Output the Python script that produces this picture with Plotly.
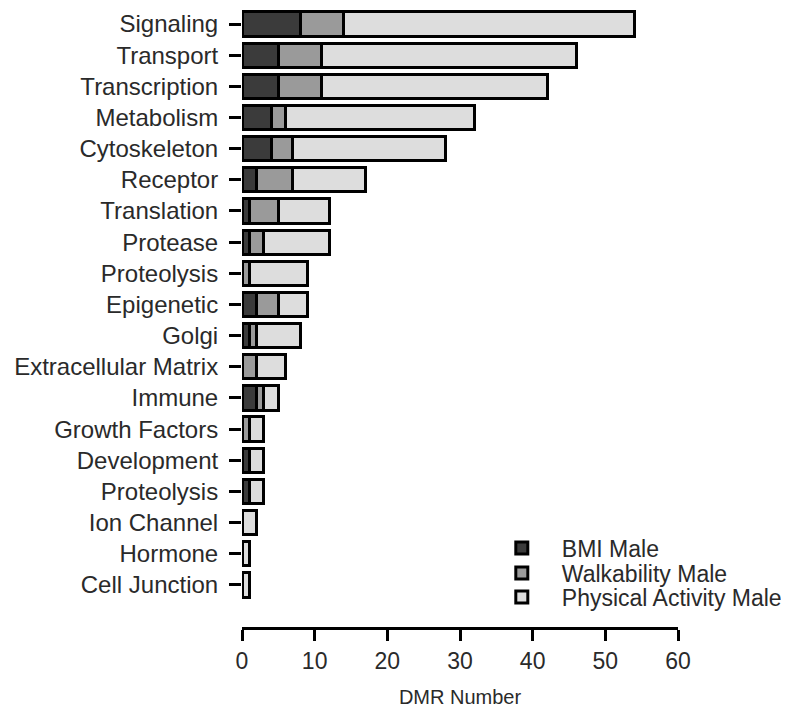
import plotly.graph_objects as go

categories = ["Signaling", "Transport", "Transcription", "Metabolism", "Cytoskeleton",
              "Receptor", "Translation", "Protease", "Proteolysis", "Epigenetic", "Golgi",
              "Extracellular Matrix", "Immune", "Growth Factors", "Development",
              "Proteolysis", "Ion Channel", "Hormone", "Cell Junction"]
bmi_male = [8, 5, 5, 4, 4, 2, 1, 1, 0, 2, 1, 0, 2, 0, 1, 1, 0, 0, 0]
walkability_male = [6, 6, 6, 2, 3, 5, 4, 2, 1, 3, 1, 2, 1, 1, 0, 0, 0, 0, 0]
physical_activity_male = [40, 35, 31, 26, 21, 10, 7, 9, 8, 4, 6, 4, 2, 2, 2, 2, 2, 1, 1]
x_ticks = [0, 10, 20, 30, 40, 50, 60]

n = len(categories)
ypos = [n - 1 - i for i in range(n)]

series = [
    ("BMI Male", bmi_male, "#3b3b3b", "legend"),
    ("Walkability Male", walkability_male, "#9a9a9a", "legend2"),
    ("Physical Activity Male", physical_activity_male, "#dddddd", "legend3"),
]

fig = go.Figure()
for name, vals, color, lg in series:
    fig.add_trace(go.Bar(
        x=vals, y=ypos, orientation="h", name=name, legend=lg,
        marker=dict(color=color, line=dict(color="black", width=3)),
    ))

txt = "#2a2a2a"
plot_top, plot_bottom = 2, 619
legend_rows = [540, 565, 589]  # row centres in figure pixels


def legend_at(yc):
    return dict(
        x=0.55, y=(plot_bottom - yc) / (plot_bottom - plot_top),
        xanchor="left", yanchor="middle",
        font=dict(size=23, color=txt),
        bgcolor="rgba(255,255,255,0)", itemwidth=70,
    )


fig.update_layout(
    width=781, height=713,
    barmode="stack", bargap=0.22,
    plot_bgcolor="white", paper_bgcolor="white",
    margin=dict(l=234, r=111, t=plot_top, b=713 - plot_bottom, autoexpand=False),
    font=dict(family="Liberation Sans, Arial, sans-serif", size=22, color=txt),
    showlegend=True,
    legend=legend_at(legend_rows[0]),
    legend2=legend_at(legend_rows[1]),
    legend3=legend_at(legend_rows[2]),
    xaxis=dict(
        range=[0, 60], tickvals=x_ticks, ticktext=[str(t) for t in x_ticks],
        showgrid=False, zeroline=False,
        showline=True, linecolor="black", linewidth=3,
        ticks="outside", ticklen=11, tickwidth=3, tickcolor="black",
        tickfont=dict(size=23, color=txt),
        title=dict(text="DMR Number", font=dict(size=20, color=txt), standoff=18),
    ),
    yaxis=dict(
        range=[-1.35, n - 1 + 0.45],
        tickvals=ypos, ticktext=categories,
        showgrid=False, zeroline=False, showline=False,
        ticks="outside", ticklen=12, tickwidth=3, tickcolor="black",
        ticklabelstandoff=6,
        tickfont=dict(size=24, color=txt),
    ),
)

fig.write_html("out.html")
